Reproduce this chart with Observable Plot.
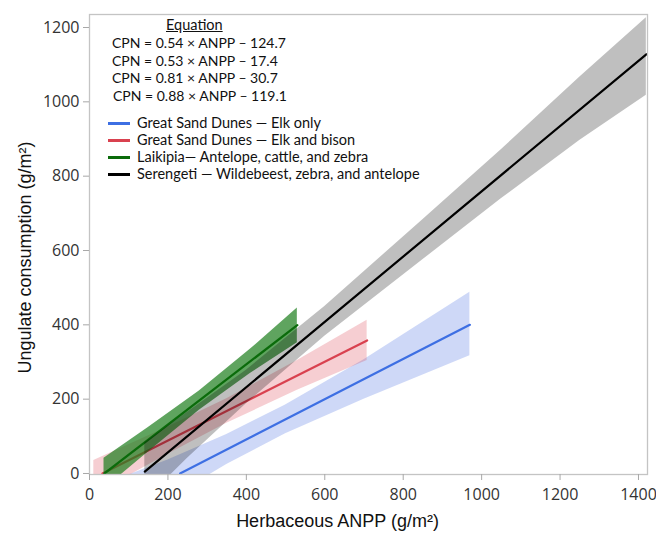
<!DOCTYPE html>
<html>
<head>
<meta charset="utf-8">
<script src="https://cdn.jsdelivr.net/npm/d3@7"></script>
<script src="https://cdn.jsdelivr.net/npm/@observablehq/plot@0.6"></script>
<style>
  html, body { margin: 0; padding: 0; background: #fff; }
  #wrap { position: relative; width: 656px; height: 534px; }
  #wrap svg { overflow: visible; }
  #overlay { position: absolute; left: 0; top: 0; font-family: Lato, "Open Sans", sans-serif; font-size: 14.5px; color: #111; }
  .t { position: absolute; white-space: nowrap; line-height: 1; }
  .eq { font-size: 14px; }
  .sw { position: absolute; width: 22px; height: 3px; }
</style>
</head>
<body>
<div id="wrap"><div id="overlay"></div></div>
<script>
// ---- data ----
const seriesNames = [
  "Great Sand Dunes — Elk only",
  "Great Sand Dunes — Elk and bison",
  "Laikipia— Antelope, cattle, and zebra",
  "Serengeti — Wildebeest, zebra, and antelope"
];
const equations = [
  "CPN = 0.54 × ANPP – 124.7",
  "CPN = 0.53 × ANPP – 17.4",
  "CPN = 0.81 × ANPP – 30.7",
  "CPN = 0.88 × ANPP – 119.1"
];
const lineColors = ["#3d6fe3", "#d9414f", "#0b6b0b", "#000000"];
const bandColors = ["#4169e1", "#dc3c4b", "#1b7d1b", "#000000"];
const bandOpacity = [0.26, 0.25, 0.7, 0.25];

// fitted line end points (ANPP, CPN)
const lineStartX = [231, 33, 38, 141];
const lineStartY = [0, 0, 0, 5];
const lineEndX = [970, 708, 530, 1420];
const lineEndY = [400, 358, 399, 1128];

// confidence bands
const elkBandX  = [80, 200, 350, 500, 700, 970];
const elkBandLo = [-150, -70, 24, 107, 200, 317];
const elkBandHi = [-12, 36, 105, 184, 306, 488];

const bisonBandX  = [11, 200, 350, 530, 708];
const bisonBandLo = [-58, 52, 135, 224, 304];
const bisonBandHi = [35, 125, 201, 304, 412];

const laikipiaBandX  = [37, 150, 280, 410, 530];
const laikipiaBandLo = [-42, 58, 170, 269, 352];
const laikipiaBandHi = [41, 124, 222, 334, 445];

const serengetiBandX  = [141, 250, 400, 600, 850, 1050, 1250, 1420];
const serengetiBandLo = [-73, 41, 188, 369, 575, 739, 896, 1018];
const serengetiBandHi = [83, 165, 278, 449, 683, 871, 1066, 1226];

const xTicks = [0, 200, 400, 600, 800, 1000, 1200, 1400];
const yTicks = [0, 200, 400, 600, 800, 1000, 1200];
const xLabel = "Herbaceous ANPP (g/m²)";
const yLabel = "Ungulate consumption (g/m²)";

// ---- build tables ----
const bandSets = [
  [elkBandX, elkBandLo, elkBandHi],
  [bisonBandX, bisonBandLo, bisonBandHi],
  [laikipiaBandX, laikipiaBandLo, laikipiaBandHi],
  [serengetiBandX, serengetiBandLo, serengetiBandHi]
];
const bands = bandSets.map(([xs, lo, hi]) => xs.map((x, i) => ({x, lo: lo[i], hi: hi[i]})));
const lines = seriesNames.map((s, i) => [
  {x: lineStartX[i], y: lineStartY[i]},
  {x: lineEndX[i], y: lineEndY[i]}
]);

const marks = [];
seriesNames.forEach((s, i) => {
  marks.push(Plot.areaY(bands[i], {x: "x", y1: "lo", y2: "hi", fill: bandColors[i], fillOpacity: bandOpacity[i], clip: true}));
  marks.push(Plot.line(lines[i], {x: "x", y: "y", stroke: lineColors[i], strokeWidth: 2.2, clip: true}));
});

const chart = Plot.plot({
  width: 656, height: 534,
  marginLeft: 89, marginRight: 9, marginTop: 14, marginBottom: 60,
  style: {fontFamily: "'Open Sans', 'Noto Sans', sans-serif", color: "#333", background: "#fff"},
  x: {domain: [0, 1423]},
  y: {domain: [-2.7, 1235]},
  marks: [
    ...marks,
    Plot.frame({stroke: "#c4c4c4", strokeWidth: 1.3}),
    Plot.axisX({ticks: xTicks, tickFormat: d3.format("d"), tickSize: 6, tickPadding: 8, fontSize: 16, stroke: "#a8a8a8", label: null}),
    Plot.axisY({ticks: yTicks, tickFormat: d3.format("d"), tickSize: 6, tickPadding: 4, fontSize: 16, stroke: "#a8a8a8", label: null}),
    Plot.text([xLabel], {frameAnchor: "bottom", textAnchor: "middle", lineAnchor: "middle", dx: -31, dy: 47, fontSize: 18, fill: "#111", fontFamily: "'Liberation Sans', Arial, sans-serif"}),
    Plot.text([yLabel], {frameAnchor: "left", textAnchor: "middle", lineAnchor: "middle", rotate: -90, dx: -64, dy: 13, fontSize: 18, fill: "#111", fontFamily: "'Liberation Sans', Arial, sans-serif"})
  ]
});
document.getElementById("wrap").insertBefore(chart, document.getElementById("overlay"));

// ---- equation block & legend ----
const ov = document.getElementById("overlay");
function addText(txt, left, centerY, cls, extra) {
  const d = document.createElement("div");
  d.className = "t" + (cls ? " " + cls : "");
  d.textContent = txt;
  d.style.left = left + "px";
  d.style.top = (centerY - 7) + "px";
  if (extra) Object.assign(d.style, extra);
  ov.appendChild(d);
  return d;
}
addText("Equation", 166, 25, "", {textDecoration: "underline"});
const eqY = [43, 61, 78, 96];
equations.forEach((e, i) => addText(e, i === 3 ? 113 : 112, eqY[i], "eq"));
const legY = [123, 140, 157, 174];
seriesNames.forEach((s, i) => {
  const sw = document.createElement("div");
  sw.className = "sw";
  sw.style.left = "108px";
  sw.style.top = (legY[i] - 1.5) + "px";
  sw.style.background = lineColors[i];
  ov.appendChild(sw);
  addText(s, 137, legY[i]);
});
</script>
</body>
</html>
